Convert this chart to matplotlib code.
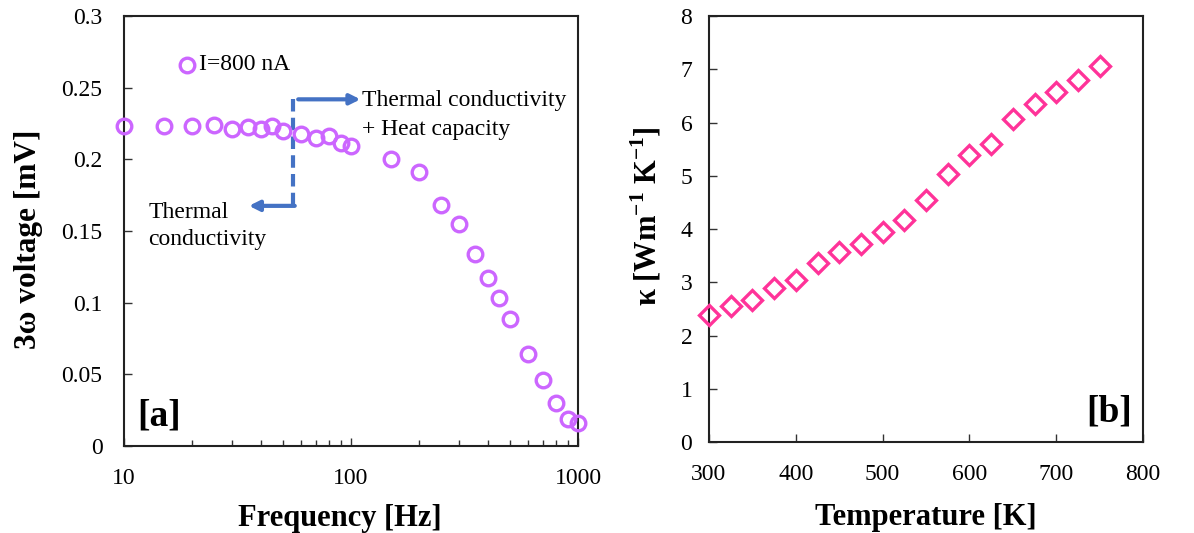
import matplotlib
matplotlib.use("Agg")
import matplotlib.pyplot as plt
from matplotlib.ticker import NullFormatter, LogLocator

plt.rcParams['font.family'] = ['Liberation Serif', 'DejaVu Serif']
plt.rcParams['mathtext.fontset'] = 'custom'
plt.rcParams['mathtext.rm'] = 'Liberation Serif'
plt.rcParams['mathtext.bf'] = 'Liberation Serif:bold'

# Panel (a) data
freq = [10, 15, 20, 25, 30, 35, 40, 45, 50, 60, 70, 80, 90, 100,
        150, 200, 250, 300, 350, 400, 450, 500, 600, 700, 800, 900, 1000]
voltage = [0.223, 0.223, 0.2235, 0.2242, 0.221, 0.2226, 0.221, 0.223, 0.2194,
           0.2175, 0.2145, 0.2159, 0.2112, 0.2094,
           0.2001, 0.191, 0.1682, 0.1547, 0.1338, 0.1175, 0.1035, 0.0886,
           0.064, 0.0458, 0.030, 0.0191, 0.0158]

# Panel (b) data
temperature = [300, 325, 350, 375, 400, 425, 450, 475, 500, 525, 550, 575,
               600, 625, 650, 675, 700, 725, 750]
kappa = [2.38, 2.55, 2.67, 2.89, 3.05, 3.36, 3.56, 3.71, 3.95, 4.17, 4.55, 5.03,
         5.39, 5.60, 6.07, 6.35, 6.57, 6.80, 7.06]

purple = '#CC66FF'
pink = '#FF3399'
blue = '#4472C4'

fig = plt.figure(figsize=(11.94, 5.33), dpi=100)
ax1 = fig.add_axes([0.1039, 0.1632, 0.3802, 0.807])
ax2 = fig.add_axes([0.5938, 0.1707, 0.3635, 0.7992])

tick_fs = 17
label_fs = 22
note_fs = 17

# ---- Panel a
ax1.plot(freq, voltage, linestyle='none', marker='o', markersize=10.5,
         markerfacecolor='none', markeredgecolor=purple, markeredgewidth=2.4,
         clip_on=False, zorder=5)
ax1.set_xscale('log')
ax1.set_xlim(10, 1000)
ax1.set_ylim(0, 0.3)
ax1.set_xticks([10, 100, 1000])
ax1.set_xticklabels(['10', '100', '1000'])
ax1.xaxis.set_minor_locator(LogLocator(base=10, subs=range(2, 10)))
ax1.xaxis.set_minor_formatter(NullFormatter())
ax1.set_yticks([0, 0.05, 0.1, 0.15, 0.2, 0.25, 0.3])
ax1.set_yticklabels(['0', '0.05', '0.1', '0.15', '0.2', '0.25', '0.3'])
ax1.set_xlabel('Frequency [Hz]', fontsize=label_fs, fontweight='bold')
ax1.set_ylabel('3ω voltage [mV]', fontsize=label_fs + 0.5, fontweight='bold', labelpad=13)
ax1.xaxis.set_label_coords(0.476, -0.135)
ax1.yaxis.label.set_y(0.481)

# legend-like label
ax1.plot([19], [0.266], linestyle='none', marker='o', markersize=10.5,
         markerfacecolor='none', markeredgecolor=purple, markeredgewidth=2.4)
ax1.text(21.3, 0.266, 'I=800 nA', fontsize=note_fs, va='center', ha='left')

# annotations
ax1.plot([55.7, 55.7], [0.2418, 0.1675], color=blue, lw=3, ls=(0, (3, 1.5)))
ax1.annotate('', xy=(110, 0.2418), xytext=(58.5, 0.2418),
             arrowprops=dict(arrowstyle='-|>,head_length=0.6,head_width=0.3',
                             color=blue, lw=3, shrinkA=0, shrinkB=0))
ax1.annotate('', xy=(35.5, 0.1675), xytext=(56.5, 0.1675),
             arrowprops=dict(arrowstyle='-|>,head_length=0.6,head_width=0.3',
                             color=blue, lw=3, shrinkA=0, shrinkB=0))
ax1.text(112, 0.2485, 'Thermal conductivity\n+ Heat capacity',
         fontsize=note_fs, va='top', ha='left', linespacing=1.5)
ax1.text(12.8, 0.1705, 'Thermal\nconductivity', fontsize=note_fs, va='top', ha='left',
         linespacing=1.4)
ax1.text(0.03, 0.03, '[a]', transform=ax1.transAxes, fontsize=27,
         fontweight='bold', ha='left', va='bottom')

# ---- Panel b
ax2.plot(temperature, kappa, linestyle='none', marker='D', markersize=10.5,
         markerfacecolor='none', markeredgecolor=pink, markeredgewidth=2.4,
         clip_on=False, zorder=5)
ax2.set_xlim(300, 800)
ax2.set_ylim(0, 8)
ax2.set_xticks([300, 400, 500, 600, 700, 800])
ax2.set_yticks(range(0, 9))
ax2.set_xlabel('Temperature [K]', fontsize=label_fs, fontweight='bold', labelpad=13.5)
ax2.set_ylabel(r'κ [Wm$^{\mathbf{-1}}$ K$^{\mathbf{-1}}$]', fontsize=label_fs,
               fontweight='bold', labelpad=12)
ax2.yaxis.label.set_y(0.53)
ax2.text(0.975, 0.03, '[b]', transform=ax2.transAxes, fontsize=27,
         fontweight='bold', ha='right', va='bottom')

for ax in (ax1, ax2):
    ax.tick_params(which='both', direction='in', labelsize=tick_fs,
                   top=False, right=False, color='#333333')
    ax.tick_params(which='major', length=6, width=1)
    ax.tick_params(which='minor', length=4, width=1)
    for sp in ax.spines.values():
        sp.set_linewidth(1.5)
        sp.set_color('#222222')
ax1.tick_params(axis='x', which='both', pad=16)
ax1.tick_params(axis='y', which='both', pad=15.5)
ax2.tick_params(axis='x', which='both', pad=15.5)
ax2.tick_params(axis='y', which='both', pad=12)

fig.savefig('out.png', dpi=100)
